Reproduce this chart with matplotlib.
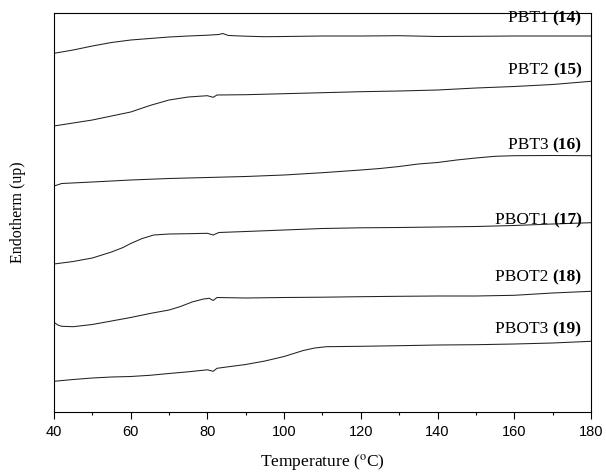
import matplotlib
matplotlib.use("Agg")
import matplotlib.pyplot as plt
from matplotlib.ticker import MultipleLocator, NullLocator

plt.rcParams['mathtext.fontset'] = 'stix'

# DSC traces (temperature in degC, signal in arbitrary units, offset per sample)
t_pbt1 = [40, 45, 50, 55, 60, 65, 70, 75, 80, 83, 84, 85.5, 90, 95, 100, 110, 120, 130, 140, 150, 160, 170, 180]
s_pbt1 = [358.7, 362, 366, 369.5, 372, 373.5, 375, 376, 376.8, 377.5, 378.5, 376.5, 375.8, 375.3, 375.5, 376, 376, 376.3, 375.5, 375.7, 376, 376, 376]

t_pbt2 = [40, 45, 50, 55, 60, 65, 70, 75, 80, 81.5, 82.5, 90, 100, 110, 120, 130, 140, 150, 160, 170, 180]
s_pbt2 = [286, 289, 292, 296, 300, 306.5, 312, 315, 316.3, 314.7, 317, 317.3, 318.3, 319.3, 320.3, 321, 322, 324, 325.5, 327.5, 330.7]

t_pbt3 = [40, 42, 50, 60, 70, 80, 90, 100, 110, 120, 125, 130, 135, 140, 145, 150, 155, 160, 170, 180]
s_pbt3 = [226, 228.5, 230, 232, 233.5, 234.5, 235.5, 237, 239.3, 242, 243.5, 245.5, 248, 249.5, 252, 254, 255.7, 256.3, 256.5, 256.3]

t_pbot1 = [40, 45, 50, 55, 58, 60, 63, 66, 70, 75, 80, 81.5, 83, 90, 100, 110, 120, 130, 140, 150, 160, 170, 180]
s_pbot1 = [148, 150.5, 154, 160, 164.5, 168.5, 173.5, 177, 178, 178.3, 178.7, 177, 179.5, 180.5, 182, 183.5, 184.2, 184.5, 185, 185.5, 186.5, 188, 189.3]

t_pbot2 = [40, 41, 42, 45, 50, 55, 60, 65, 70, 73, 76, 79, 80.5, 81.5, 82.5, 90, 100, 110, 120, 130, 140, 150, 160, 170, 180]
s_pbot2 = [89.7, 87, 85.7, 85.3, 87.5, 91, 94.5, 98.5, 102, 105.5, 110, 113, 113.7, 111.5, 114.5, 114, 114.5, 114.8, 115.3, 115.7, 116, 116, 116.7, 119, 120.7]

t_pbot3 = [40, 45, 50, 55, 60, 65, 70, 75, 80, 81.5, 82.5, 85, 90, 95, 100, 105, 108, 111, 120, 130, 140, 150, 160, 170, 180]
s_pbot3 = [30.7, 32.5, 34, 35, 35.5, 36.7, 38.5, 40.2, 42.2, 40.7, 43.7, 45, 47.5, 51, 55.5, 61.5, 64, 65.3, 65.7, 66.3, 67, 67.3, 68, 69, 70.7]

names = ["PBT1", "PBT2", "PBT3", "PBOT1", "PBOT2", "PBOT3"]
numbers = ["(14)", "(15)", "(16)", "(17)", "(18)", "(19)"]
label_y = [393.7, 342, 267, 192, 134.7, 83]

fig = plt.figure(figsize=(6.06, 4.74), dpi=100)
ax = fig.add_axes([0.0891, 0.1308, 0.886, 0.8424])

curves = [(t_pbt1, s_pbt1), (t_pbt2, s_pbt2), (t_pbt3, s_pbt3),
          (t_pbot1, s_pbot1), (t_pbot2, s_pbot2), (t_pbot3, s_pbot3)]
for t, s in curves:
    ax.plot(t, s, color='#222222', lw=0.75)

for name, num, y in zip(names, numbers, label_y):
    tb = ax.text(177.6, y, num, ha='right', va='center', fontsize=12.5,
                 family='Liberation Serif', fontweight='bold')
    ax.annotate(name + " ", xy=(0, 0.5), xycoords=tb, ha='right', va='center',
                fontsize=12.5, family='Liberation Serif')

ax.set_xlim(40, 180)
ax.set_ylim(0, 399.3)
ax.xaxis.set_major_locator(MultipleLocator(20))
ax.xaxis.set_minor_locator(MultipleLocator(10))
ax.yaxis.set_major_locator(NullLocator())
ax.tick_params(axis='x', which='major', direction='out', length=5, width=0.8, labelsize=10.5, pad=4)
ax.tick_params(axis='x', which='minor', direction='out', length=2.5, width=0.8)
for lab in ax.get_xticklabels():
    lab.set_family('Liberation Sans')
for sp in ax.spines.values():
    sp.set_linewidth(0.8)

ax.set_xlabel(r'Temperature ($^{\rm o}$C)', family='Liberation Serif', fontsize=12.5, labelpad=10)
ax.set_ylabel('Endotherm (up)', family='Liberation Serif', fontsize=11.5, labelpad=20)

fig.savefig("out.png", dpi=100)
